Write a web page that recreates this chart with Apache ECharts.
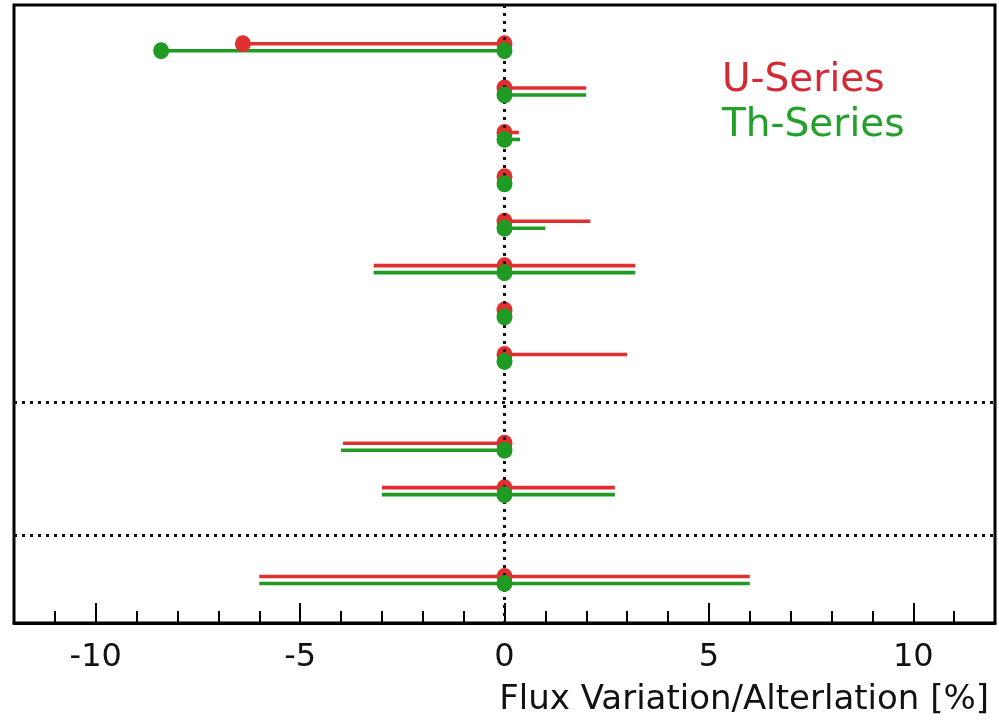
<!DOCTYPE html>
<html><head><meta charset="utf-8">
<script src="https://cdn.jsdelivr.net/npm/echarts@6/dist/echarts.min.js"></script>
<style>html,body{margin:0;padding:0;background:#fff}#c{width:999px;height:720px}</style>
</head><body><div id="c"></div>
<script>
// Row index 0..12 (top to bottom); rows 8 and 11 are separator rows (dotted lines)
const rows = [0,1,2,3,4,5,6,7,8,9,10,11,12];
const separators = [8, 11];
const uLow  = [-6.4, 0, 0, 0, 0, -3.2, 0, 0, null, -3.95, -3.0, null, -6.0];
const uHigh = [0, 2.0, 0.35, 0, 2.1, 3.2, 0, 3.0, null, 0, 2.7, null, 6.0];
const thLow  = [-8.4, 0, 0, 0, 0, -3.2, 0, 0, null, -4.0, -3.0, null, -6.0];
const thHigh = [0, 2.0, 0.38, 0, 1.0, 3.2, 0, 0, null, 0, 2.7, null, 6.0];
const uCentral  = [0, 0, 0, 0, 0, 0, 0, 0, null, 0, 0, null, 0];
const thCentral = [0, 0, 0, 0, 0, 0, 0, 0, null, 0, 0, null, 0];
const uExtraDots  = [[-6.4, 0]];
const thExtraDots = [[-8.4, 0]];
const xTicksMajor = [-10, -5, 0, 5, 10];
const legendNames = ['U-Series', 'Th-Series'];
const xTitle = 'Flux Variation/Alterlation [%]';

const RED = '#e02f2f', GREEN = '#1f9a22';
const FONT = 'DejaVu Sans';

function rangeData(lo, hi) {
  const d = [];
  rows.forEach(r => { if (lo[r] !== null && hi[r] !== null && lo[r] !== hi[r]) d.push([r, lo[r], hi[r]]); });
  return d;
}
function dotData(c, extra) {
  const d = [];
  rows.forEach(r => { if (c[r] !== null) d.push([c[r], r]); });
  return d.concat(extra);
}
function barRenderer(color, off) {
  return function (params, api) {
    const a = api.coord([api.value(1), api.value(0)]);
    const b = api.coord([api.value(2), api.value(0)]);
    return { type: 'line', shape: { x1: a[0], y1: a[1] + off, x2: b[0], y2: b[1] + off },
      style: { stroke: color, lineWidth: 3.6 } };
  };
}

const chart = echarts.init(document.getElementById('c'), null, { renderer: 'canvas' });
chart.setOption({
  animation: false,
  backgroundColor: '#fff',
  grid: { left: 14, right: 4, top: 5, bottom: 97, show: true, borderColor: '#000', borderWidth: 3, backgroundColor: 'transparent' },
  xAxis: [{
    type: 'value', min: -12, max: 12, position: 'bottom',
    axisLine: { show: true, onZero: false, lineStyle: { color: '#000', width: 3 } },
    axisTick: { show: true, inside: true, length: 20, customValues: xTicksMajor, lineStyle: { color: '#000', width: 2 } },
    axisLabel: { customValues: xTicksMajor, fontFamily: FONT, fontSize: 32, color: '#111', margin: 19 },
    splitLine: { show: false },
    name: xTitle, nameLocation: 'end', nameGap: 0,
    nameTextStyle: { fontFamily: FONT, fontSize: 34, color: '#111', align: 'right', verticalAlign: 'top', padding: [60, 6, 0, 0] }
  }, {
    type: 'value', min: -12, max: 12, interval: 1, position: 'bottom',
    axisLine: { show: false, onZero: false },
    axisTick: { show: true, inside: true, length: 12, lineStyle: { color: '#000', width: 2 } },
    axisLabel: { show: false }, splitLine: { show: false }
  }],
  yAxis: { type: 'value', min: -0.95, max: 12.97, inverse: true, show: false },
  series: [
    { type: 'custom', name: 'U-Series range', xAxisIndex: 0, renderItem: barRenderer(RED, -3.5),
      data: rangeData(uLow, uHigh), z: 3,
      markLine: { silent: true, symbol: 'none', label: { show: false },
        lineStyle: { color: '#111', type: [3, 5], width: 3 },
        data: [{ xAxis: 0 }].concat(separators.map(s => ({ yAxis: s }))) } },
    { type: 'custom', name: 'Th-Series range', renderItem: barRenderer(GREEN, 3.5),
      data: rangeData(thLow, thHigh), z: 3 },
    { type: 'scatter', name: 'U-Series', data: dotData(uCentral, uExtraDots), symbol: 'circle',
      symbolSize: [16, 17], symbolOffset: [0, -3.5], itemStyle: { color: RED, opacity: 1 }, z: 4 },
    { type: 'scatter', name: 'Th-Series', data: dotData(thCentral, thExtraDots), symbol: 'circle',
      symbolSize: [16, 17], symbolOffset: [0, 3.5], itemStyle: { color: GREEN, opacity: 1 }, z: 5 }
  ],
  graphic: [
    { type: 'text', left: 722, top: 61, style: { text: legendNames[0], fontFamily: FONT, fontSize: 39, fill: '#d42a35' } },
    { type: 'text', left: 722, top: 106, style: { text: legendNames[1], fontFamily: FONT, fontSize: 39, fill: '#22a02a' } }
  ]
});
</script></body></html>
